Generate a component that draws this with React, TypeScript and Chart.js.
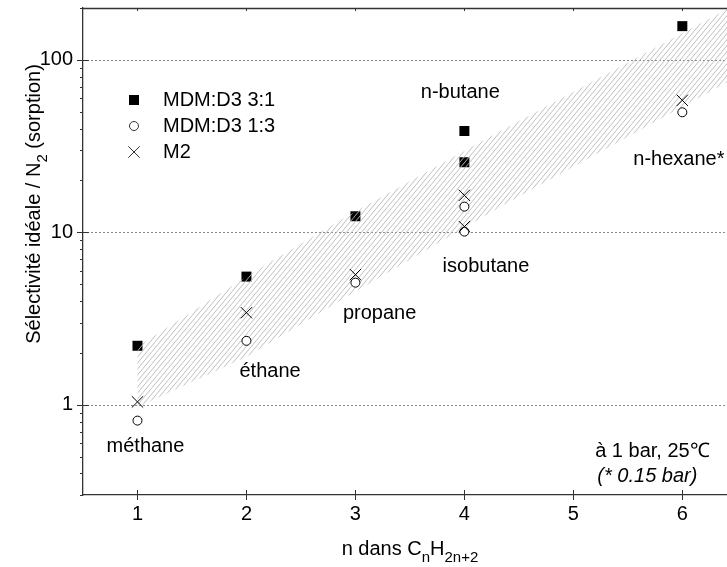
import React, { useEffect, useRef } from 'react';
import { Chart, registerables } from 'chart.js';

Chart.register(...registerables);

const FONT = '"Liberation Sans", Arial, sans-serif';

// ---- data ----
const carbonN = [1, 2, 3, 4, 4, 6];
const mdm31Values = [2.2, 5.54, 12.4, 38.7, 25.5, 157];
const mdm13Values = [0.81, 2.35, 5.11, 14.1, 10.1, 49.7];
const m2Values = [1.04, 3.42, 5.69, 16.4, 10.8, 58.3];

const bandUpperN = [1, 2.1, 2.98, 4.24, 6.41];
const bandUpperValues = [2.17, 6.08, 13.0, 36.0, 197];
const bandLowerN = [1, 2, 2.98, 4.33, 6.41];
const bandLowerValues = [0.97, 1.9, 4.47, 14.1, 74.1];

const seriesLabels = ['MDM:D3 3:1', 'MDM:D3 1:3', 'M2'];

const xTickValues = [1, 2, 3, 4, 5, 6];
const yMajorTicks = [1, 10, 100];
const yAllTicks = [
  0.3, 0.4, 0.5, 0.6, 0.7, 0.8, 0.9,
  1, 2, 3, 4, 5, 6, 7, 8, 9,
  10, 20, 30, 40, 50, 60, 70, 80, 90,
  100, 200,
];

const gasLabels = ['n-butane', 'n-hexane*', 'isobutane', 'propane', 'éthane', 'méthane'];
const gasLabelN = [3.6, 5.55, 3.8, 2.885, 1.936, 0.716];
const gasLabelValues = [64.8, 26.5, 6.33, 3.38, 1.555, 0.57];

const noteLines = ['à 1 bar, 25℃', '(* 0.15 bar)'];
const noteN = [5.2, 5.22];
const noteValues = [0.533, 0.382];

const xTitleParts = [
  { t: 'n dans C', sub: false },
  { t: 'n', sub: true },
  { t: 'H', sub: false },
  { t: '2n+2', sub: true },
];
const yTitleParts = [
  { t: 'Sélectivité idéale / N', sub: false },
  { t: '2', sub: true },
  { t: ' (sorption)', sub: false },
];

function drawRich(ctx: CanvasRenderingContext2D, parts: { t: string; sub: boolean }[], cx: number, baseY: number) {
  const big = `20px ${FONT}`;
  const small = `15px ${FONT}`;
  let total = 0;
  const widths: number[] = [];
  for (const p of parts) {
    ctx.font = p.sub ? small : big;
    const w = ctx.measureText(p.t).width;
    widths.push(w);
    total += w;
  }
  let x = cx - total / 2;
  ctx.textAlign = 'left';
  ctx.textBaseline = 'alphabetic';
  parts.forEach((p, i) => {
    ctx.font = p.sub ? small : big;
    ctx.fillText(p.t, x, baseY + (p.sub ? 7 : 0));
    x += widths[i];
  });
}

function makeHatch(ctx: CanvasRenderingContext2D) {
  const w = 5;
  const h = 6;
  const c = document.createElement('canvas');
  c.width = w;
  c.height = h;
  const g = c.getContext('2d')!;
  g.strokeStyle = '#b8b8b8';
  g.lineWidth = 0.9;
  g.beginPath();
  g.moveTo(0, h);
  g.lineTo(w, 0);
  g.moveTo(-w, h);
  g.lineTo(0, 0);
  g.moveTo(w, h);
  g.lineTo(2 * w, 0);
  g.moveTo(0, 2 * h);
  g.lineTo(w, h);
  g.moveTo(0, 0);
  g.lineTo(w, -h);
  g.stroke();
  return ctx.createPattern(c, 'repeat');
}

const decorPlugin = {
  id: 'decor',
  beforeDatasetsDraw(chart: any) {
    const { ctx, chartArea: a, scales } = chart;
    const y = scales.y;
    ctx.save();
    ctx.strokeStyle = '#8a8a8a';
    ctx.lineWidth = 1;
    ctx.setLineDash([2, 2]);
    for (const v of yMajorTicks) {
      const py = Math.round(y.getPixelForValue(v)) + 0.5;
      ctx.beginPath();
      ctx.moveTo(a.left, py);
      ctx.lineTo(a.right, py);
      ctx.stroke();
    }
    ctx.restore();
  },
  afterDraw(chart: any) {
    const { ctx, chartArea: a, scales } = chart;
    const x = scales.x;
    const y = scales.y;
    ctx.save();
    ctx.strokeStyle = '#333';
    ctx.lineWidth = 1.3;
    // top border
    ctx.beginPath();
    ctx.moveTo(a.left, a.top + 0.5);
    ctx.lineTo(a.right, a.top + 0.5);
    ctx.stroke();
    ctx.lineWidth = 1;
    // x ticks
    for (const v of xTickValues) {
      const px = Math.round(x.getPixelForValue(v)) + 0.5;
      ctx.beginPath();
      ctx.moveTo(px, a.bottom - 5);
      ctx.lineTo(px, a.bottom + 5);
      ctx.moveTo(px, a.top);
      ctx.lineTo(px, a.top + 3);
      ctx.stroke();
    }
    // y ticks
    for (const v of yAllTicks) {
      const py = Math.round(y.getPixelForValue(v)) + 0.5;
      const major = yMajorTicks.includes(v);
      ctx.beginPath();
      ctx.moveTo(a.left - (major ? 6 : 3), py);
      ctx.lineTo(a.left + (major ? 6 : 0), py);
      ctx.stroke();
    }
    ctx.fillStyle = '#000';
    // axis titles
    drawRich(ctx, xTitleParts, 410, 555);
    ctx.save();
    ctx.translate(40, 204);
    ctx.rotate(-Math.PI / 2);
    drawRich(ctx, yTitleParts, 0, 0);
    ctx.restore();
    // gas labels
    ctx.font = `20px ${FONT}`;
    ctx.textAlign = 'left';
    ctx.textBaseline = 'middle';
    gasLabels.forEach((t, i) => {
      ctx.fillText(t, x.getPixelForValue(gasLabelN[i]), y.getPixelForValue(gasLabelValues[i]));
    });
    noteLines.forEach((t, i) => {
      ctx.font = i === 1 ? `italic 20px ${FONT}` : `20px ${FONT}`;
      ctx.fillText(t, x.getPixelForValue(noteN[i]), y.getPixelForValue(noteValues[i]));
    });
    // legend
    const lx = 134;
    const rows = [100, 126, 152];
    ctx.font = `20px ${FONT}`;
    seriesLabels.forEach((t, i) => {
      ctx.fillText(t, 163, rows[i]);
    });
    ctx.fillRect(lx - 5, rows[0] - 5, 10, 10);
    ctx.beginPath();
    ctx.arc(lx, rows[1], 4.5, 0, Math.PI * 2);
    ctx.fillStyle = '#fff';
    ctx.fill();
    ctx.stroke();
    ctx.beginPath();
    ctx.moveTo(lx - 5.7, rows[2] - 5.7);
    ctx.lineTo(lx + 5.7, rows[2] + 5.7);
    ctx.moveTo(lx - 5.7, rows[2] + 5.7);
    ctx.lineTo(lx + 5.7, rows[2] - 5.7);
    ctx.stroke();
    ctx.restore();
  },
};

export default function App() {
  const ref = useRef<HTMLCanvasElement>(null);
  useEffect(() => {
    const canvas = ref.current!;
    const ctx = canvas.getContext('2d')!;
    const hatch = makeHatch(ctx);
    const pts = (ns: number[], vs: number[]) => ns.map((n, i) => ({ x: n, y: vs[i] }));
    const bandPts = [
      ...pts(bandUpperN, bandUpperValues),
      ...pts(bandLowerN, bandLowerValues).reverse(),
    ];
    const chart = new Chart(ctx, {
      type: 'line',
      data: {
        datasets: [
          {
            label: seriesLabels[0],
            data: pts(carbonN, mdm31Values),
            showLine: false,
            pointStyle: 'rect',
            pointRadius: 7.07,
            backgroundColor: '#000',
            borderColor: '#000',
            borderWidth: 0,
            order: 3,
          },
          {
            label: 'band',
            data: bandPts,
            showLine: true,
            fill: 'shape',
            backgroundColor: hatch as any,
            borderWidth: 0,
            borderColor: 'rgba(0,0,0,0)',
            pointRadius: 0,
            tension: 0,
            order: 2,
          },
          {
            label: seriesLabels[1],
            data: pts(carbonN, mdm13Values),
            showLine: false,
            pointStyle: 'circle',
            pointRadius: 4.5,
            backgroundColor: '#fff',
            borderColor: '#000',
            borderWidth: 1,
            order: 1,
          },
          {
            label: seriesLabels[2],
            data: pts(carbonN, m2Values),
            showLine: false,
            pointStyle: 'crossRot',
            pointRadius: 8,
            borderColor: '#000',
            borderWidth: 1,
            order: 0,
          },
        ],
      },
      options: {
        responsive: false,
        animation: false,
        events: [],
        layout: { autoPadding: false, padding: { top: 8, left: 0, right: 0, bottom: 0 } },
        plugins: {
          legend: { display: false },
          tooltip: { enabled: false },
          title: { display: false },
        },
        scales: {
          x: {
            type: 'linear',
            min: 0.5,
            max: 6.41,
            grid: { display: false, drawTicks: false },
            border: { display: true, color: '#333', width: 1.3 },
            afterBuildTicks: (s: any) => {
              s.ticks = xTickValues.map((v) => ({ value: v }));
            },
            afterFit: (s: any) => {
              s.height = 72;
              s.paddingLeft = 0;
              s.paddingRight = 0;
            },
            ticks: {
              autoSkip: false,
              maxRotation: 0,
              padding: 7,
              color: '#000',
              font: { family: FONT, size: 20 },
              callback: (v: any) => String(v),
            },
          },
          y: {
            type: 'logarithmic',
            min: 0.3,
            max: 200,
            grid: { display: false, drawTicks: false },
            border: { display: true, color: '#333', width: 1.3 },
            afterBuildTicks: (s: any) => {
              s.ticks = yAllTicks.map((v) => ({ value: v, major: yMajorTicks.includes(v) }));
            },
            afterFit: (s: any) => {
              s.width = 83;
              s.paddingTop = 0;
              s.paddingBottom = 0;
            },
            ticks: {
              autoSkip: false,
              padding: 10,
              color: '#000',
              font: { family: FONT, size: 20 },
              callback: (v: any) => (yMajorTicks.includes(Number(v)) ? String(v) : ''),
            },
          },
        },
      },
      plugins: [decorPlugin],
    });
    return () => chart.destroy();
  }, []);
  return (
    <div style={{ position: 'absolute', left: 0, top: 0, width: 727, height: 567, overflow: 'hidden', background: '#fff' }}>
      <canvas ref={ref} width={727} height={567} style={{ display: 'block' }} />
    </div>
  );
}
